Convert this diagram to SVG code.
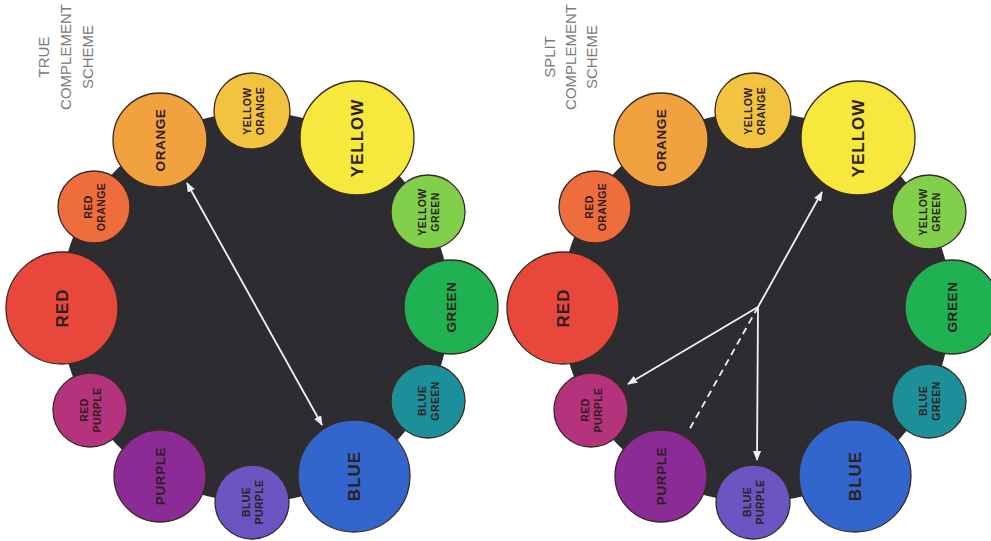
<svg xmlns="http://www.w3.org/2000/svg" width="991" height="541" viewBox="0 0 991 541">
<defs>
<style>
.bg{fill:#2d2c31}
.c{stroke:#3a2a22;stroke-width:1.3}
.t{font-family:"Liberation Sans",Arial,sans-serif;font-weight:bold;fill:#2e2020;text-anchor:middle}
.p{font-size:17px;letter-spacing:1px}
.s{font-size:13.5px;letter-spacing:0.6px}
.q{font-size:10.5px;letter-spacing:0.4px}
.ttl{font-family:"Liberation Sans",Arial,sans-serif;font-size:15px;fill:#7a7a7a;text-anchor:middle}
.ln{stroke:#f2f2f2;stroke-width:1.8;fill:none}
.dash{stroke-dasharray:7 5}
</style>
<marker id="ah" viewBox="0 0 10 8" refX="9" refY="4" markerWidth="10" markerHeight="8" markerUnits="userSpaceOnUse" orient="auto-start-reverse">
<path d="M0,0 L10,4 L0,8 z" fill="#f2f2f2"/>
</marker>
</defs>
<rect width="991" height="541" fill="#ffffff"/>

<g id="title-left">
<text class="ttl" transform="translate(49,57) rotate(-90)">TRUE</text>
<text class="ttl" transform="translate(71,57) rotate(-90)">COMPLEMENT</text>
<text class="ttl" transform="translate(93,57) rotate(-90)">SCHEME</text>
</g>
<g id="title-right">
<text class="ttl" transform="translate(555,57) rotate(-90)">SPLIT</text>
<text class="ttl" transform="translate(576,57) rotate(-90)">COMPLEMENT</text>
<text class="ttl" transform="translate(597,57) rotate(-90)">SCHEME</text>
</g>

<g id="wheel-left">
<circle class="bg" cx="255" cy="307" r="195"/>
<g id="L-yellow"><circle class="c" cx="357" cy="138" r="57" fill="#f6e83c"/><text class="t p" transform="translate(357,138) rotate(-90)" y="6">YELLOW</text></g>
<g id="L-yellow-orange"><circle class="c" cx="252" cy="111" r="38" fill="#f2c33e"/><text class="t q" transform="translate(254,111) rotate(-90)"><tspan x="0" y="-3">YELLOW</tspan><tspan x="0" y="10">ORANGE</tspan></text></g>
<g id="L-orange"><circle class="c" cx="160" cy="140" r="47" fill="#f2a13f"/><text class="t s" transform="translate(160,140) rotate(-90)" y="5">ORANGE</text></g>
<g id="L-red-orange"><circle class="c" cx="94" cy="207" r="36" fill="#ef6c3c"/><text class="t q" transform="translate(95,207) rotate(-90)"><tspan x="0" y="-3">RED</tspan><tspan x="0" y="10">ORANGE</tspan></text></g>
<g id="L-red"><circle class="c" cx="62" cy="308" r="56" fill="#e8473b"/><text class="t p" transform="translate(62,308) rotate(-90)" y="6">RED</text></g>
<g id="L-red-purple"><circle class="c" cx="90" cy="410" r="37" fill="#b5327c"/><text class="t q" transform="translate(91,410) rotate(-90)"><tspan x="0" y="-3">RED</tspan><tspan x="0" y="10">PURPLE</tspan></text></g>
<g id="L-purple"><circle class="c" cx="160" cy="476" r="46" fill="#8c2a96"/><text class="t s" transform="translate(160,476) rotate(-90)" y="5">PURPLE</text></g>
<g id="L-blue-purple"><circle class="c" cx="252" cy="502" r="37" fill="#6a55c2"/><text class="t q" transform="translate(253,502) rotate(-90)"><tspan x="0" y="-3">BLUE</tspan><tspan x="0" y="10">PURPLE</tspan></text></g>
<g id="L-blue"><circle class="c" cx="354" cy="476" r="56" fill="#3366cc"/><text class="t p" transform="translate(354,476) rotate(-90)" y="6">BLUE</text></g>
<g id="L-blue-green"><circle class="c" cx="428" cy="401" r="37" fill="#1c909a"/><text class="t q" transform="translate(429,401) rotate(-90)"><tspan x="0" y="-3">BLUE</tspan><tspan x="0" y="10">GREEN</tspan></text></g>
<g id="L-green"><circle class="c" cx="451" cy="307" r="47" fill="#1fb152"/><text class="t s" transform="translate(451,307) rotate(-90)" y="5">GREEN</text></g>
<g id="L-yellow-green"><circle class="c" cx="428" cy="212" r="37" fill="#80d04c"/><text class="t q" transform="translate(429,212) rotate(-90)"><tspan x="0" y="-3">YELLOW</tspan><tspan x="0" y="10">GREEN</tspan></text></g>
</g>

<g id="wheel-right" transform="translate(501,0)">
<circle class="bg" cx="255" cy="307" r="195"/>
<g id="R-yellow"><circle class="c" cx="357" cy="138" r="57" fill="#f6e83c"/><text class="t p" transform="translate(357,138) rotate(-90)" y="6">YELLOW</text></g>
<g id="R-yellow-orange"><circle class="c" cx="252" cy="111" r="38" fill="#f2c33e"/><text class="t q" transform="translate(254,111) rotate(-90)"><tspan x="0" y="-3">YELLOW</tspan><tspan x="0" y="10">ORANGE</tspan></text></g>
<g id="R-orange"><circle class="c" cx="160" cy="140" r="47" fill="#f2a13f"/><text class="t s" transform="translate(160,140) rotate(-90)" y="5">ORANGE</text></g>
<g id="R-red-orange"><circle class="c" cx="94" cy="207" r="36" fill="#ef6c3c"/><text class="t q" transform="translate(95,207) rotate(-90)"><tspan x="0" y="-3">RED</tspan><tspan x="0" y="10">ORANGE</tspan></text></g>
<g id="R-red"><circle class="c" cx="62" cy="308" r="56" fill="#e8473b"/><text class="t p" transform="translate(62,308) rotate(-90)" y="6">RED</text></g>
<g id="R-red-purple"><circle class="c" cx="90" cy="410" r="37" fill="#b5327c"/><text class="t q" transform="translate(91,410) rotate(-90)"><tspan x="0" y="-3">RED</tspan><tspan x="0" y="10">PURPLE</tspan></text></g>
<g id="R-purple"><circle class="c" cx="160" cy="476" r="46" fill="#8c2a96"/><text class="t s" transform="translate(160,476) rotate(-90)" y="5">PURPLE</text></g>
<g id="R-blue-purple"><circle class="c" cx="252" cy="502" r="37" fill="#6a55c2"/><text class="t q" transform="translate(253,502) rotate(-90)"><tspan x="0" y="-3">BLUE</tspan><tspan x="0" y="10">PURPLE</tspan></text></g>
<g id="R-blue"><circle class="c" cx="354" cy="476" r="56" fill="#3366cc"/><text class="t p" transform="translate(354,476) rotate(-90)" y="6">BLUE</text></g>
<g id="R-blue-green"><circle class="c" cx="428" cy="401" r="37" fill="#1c909a"/><text class="t q" transform="translate(429,401) rotate(-90)"><tspan x="0" y="-3">BLUE</tspan><tspan x="0" y="10">GREEN</tspan></text></g>
<g id="R-green"><circle class="c" cx="451" cy="307" r="47" fill="#1fb152"/><text class="t s" transform="translate(451,307) rotate(-90)" y="5">GREEN</text></g>
<g id="R-yellow-green"><circle class="c" cx="428" cy="212" r="37" fill="#80d04c"/><text class="t q" transform="translate(429,212) rotate(-90)"><tspan x="0" y="-3">YELLOW</tspan><tspan x="0" y="10">GREEN</tspan></text></g>
</g>

<g id="connectors">
<line class="ln" x1="187" y1="183" x2="322" y2="425" marker-start="url(#ah)" marker-end="url(#ah)"/>
<line class="ln" x1="758" y1="307" x2="822" y2="192" marker-end="url(#ah)"/>
<line class="ln" x1="758" y1="307" x2="628" y2="384" marker-end="url(#ah)"/>
<line class="ln dash" x1="758" y1="307" x2="688" y2="432"/>
<line class="ln" x1="758" y1="307" x2="757" y2="460" marker-end="url(#ah)"/>
</g>
</svg>
